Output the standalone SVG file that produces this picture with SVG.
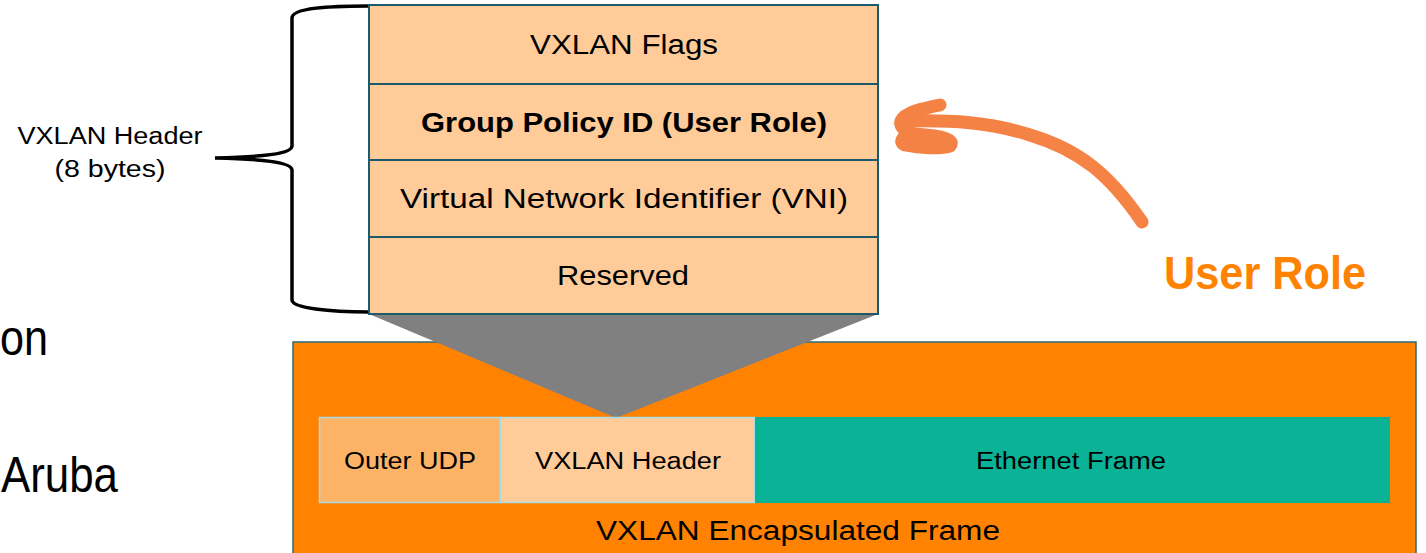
<svg xmlns="http://www.w3.org/2000/svg" width="1426" height="553" viewBox="0 0 1426 553">
<style>
text{font-family:"Liberation Sans",Arial,sans-serif;fill:#000}
.row{fill:#FFCC99;stroke:#1B5A6A;stroke-width:2}
.rt{font-size:27px;text-anchor:middle}
.bt{font-size:23px;text-anchor:middle}
</style>
<rect width="1426" height="553" fill="#fff"/>
<text x="0" y="355" font-size="50" textLength="48" lengthAdjust="spacingAndGlyphs">on</text>
<text x="1" y="492" font-size="50" textLength="117" lengthAdjust="spacingAndGlyphs">Aruba</text>
<g id="frame">
<rect x="293" y="342" width="1123" height="220" fill="#FF8300" stroke="#2A6A7A" stroke-width="1.5"/>
<text class="rt" x="798" y="540" font-size="28" textLength="404" lengthAdjust="spacingAndGlyphs">VXLAN Encapsulated Frame</text>
</g>
<g id="funnel"><polygon points="369,314 878,314 616,418" fill="#808080"/></g>
<g id="outer-udp"><rect x="319.5" y="417.5" width="181" height="85" fill="#FDB366" stroke="#A8DCEB" stroke-width="1.5"/>
<text class="bt" x="410" y="469" textLength="132" lengthAdjust="spacingAndGlyphs">Outer UDP</text></g>
<g id="vxlan-header-cell"><rect x="500.5" y="417.5" width="254" height="85" fill="#FFCC99" stroke="#A8DCEB" stroke-width="1.5"/>
<text class="bt" x="628" y="469" textLength="186" lengthAdjust="spacingAndGlyphs">VXLAN Header</text></g>
<g id="ethernet"><rect x="755" y="417" width="635" height="86" fill="#0BB396"/>
<text class="bt" x="1071" y="469" textLength="190" lengthAdjust="spacingAndGlyphs">Ethernet Frame</text></g>
<g id="header-stack">
<rect class="row" x="369" y="5" width="509" height="79"/>
<rect class="row" x="369" y="84" width="509" height="76"/>
<rect class="row" x="369" y="160" width="509" height="77"/>
<rect class="row" x="369" y="237" width="509" height="77"/>
<text class="rt" x="624" y="54" textLength="188" lengthAdjust="spacingAndGlyphs">VXLAN Flags</text>
<text class="rt" x="624" y="132" font-weight="bold" textLength="406" lengthAdjust="spacingAndGlyphs">Group Policy ID (User Role)</text>
<text class="rt" x="624" y="208" textLength="448" lengthAdjust="spacingAndGlyphs">Virtual Network Identifier (VNI)</text>
<text class="rt" x="623" y="285" textLength="132" lengthAdjust="spacingAndGlyphs">Reserved</text>
</g>
<g id="brace-label">
<path d="M368,6 C330,6 292,8 292,18 L292,146 C292,154 260,157 215,158 C260,159 292,162 292,170 L292,300 C292,308 330,312 368,312" fill="none" stroke="#000" stroke-width="3.5"/>
<text x="110" y="144" font-size="23" text-anchor="middle" textLength="185" lengthAdjust="spacingAndGlyphs">VXLAN Header</text>
<text x="110" y="177" font-size="23" text-anchor="middle" textLength="111" lengthAdjust="spacingAndGlyphs">(8 bytes)</text>
</g>
<g id="connectors" fill="none" stroke="#F47C3C" stroke-width="13" stroke-linecap="round" stroke-linejoin="round" opacity="0.95">
<path d="M1142,222 C1110,175 1080,150 1030,135 C990,122 950,120 908,121"/>
<path d="M940,105 C925,108 905,112 901,121 C899,128 908,132 912,133 C903,136 898,142 905,145 C920,148 940,149 950,146 C955,140 945,136 915,134"/>
</g>
<g id="user-role"><text x="1164" y="289" font-size="46" font-weight="bold" style="fill:#FF8300" textLength="202" lengthAdjust="spacingAndGlyphs">User Role</text></g>
</svg>
